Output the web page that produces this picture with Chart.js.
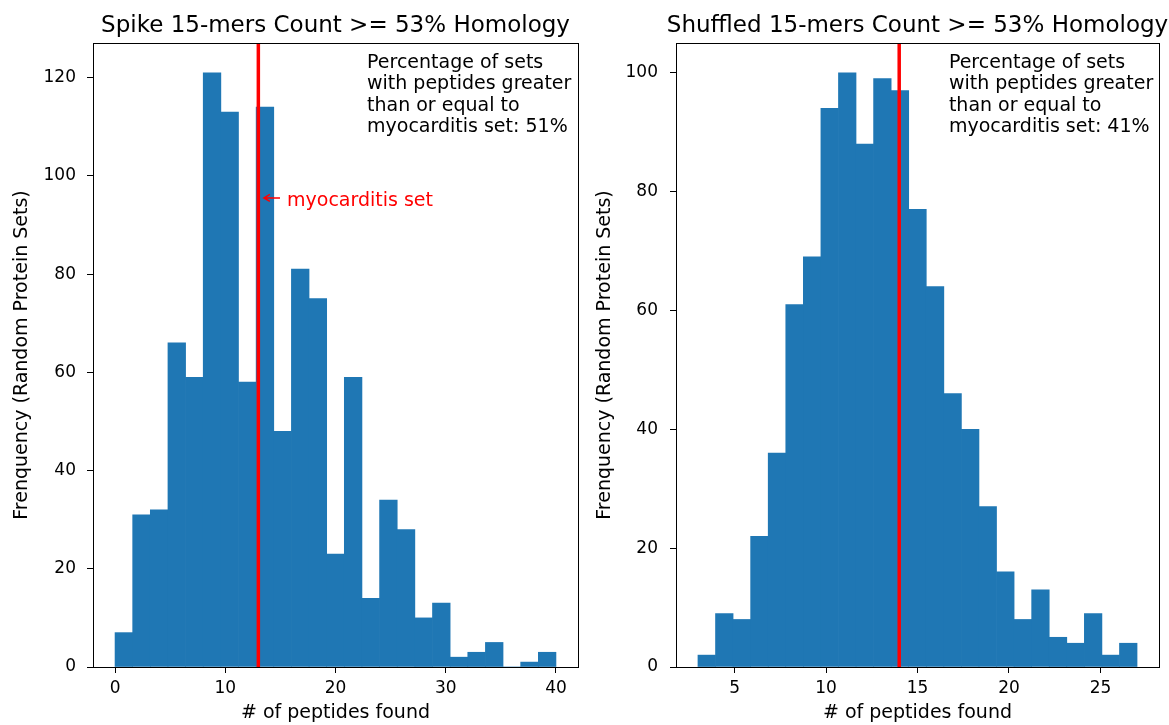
<!DOCTYPE html>
<html>
<head>
<meta charset="utf-8">
<script src="https://cdn.jsdelivr.net/npm/chart.js@4.4.0/dist/chart.umd.min.js"></script>
<style>
  html, body { margin: 0; padding: 0; background: #fff; }
  #wrap { position: relative; width: 1169px; height: 725px; overflow: hidden; }
  #c1 { position: absolute; left: 0; top: 0; }
  #c2 { position: absolute; left: 585px; top: 0; }
</style>
</head>
<body>
<div id="wrap">
  <canvas id="c1" width="585" height="725"></canvas>
  <canvas id="c2" width="584" height="725"></canvas>
</div>
<script>
// ---------- data ----------
const leftBinEdges = [0, 1.6, 3.2, 4.8, 6.4, 8, 9.6, 11.2, 12.8, 14.4, 16, 17.6, 19.2, 20.8, 22.4, 24, 25.6, 27.2, 28.8, 30.4, 32, 33.6, 35.2, 36.8, 38.4, 40];
const leftCounts = [7, 31, 32, 66, 59, 121, 113, 58, 114, 48, 81, 75, 23, 59, 14, 34, 28, 10, 13, 2, 3, 5, 0, 1, 3];
const rightBinEdges = [3, 3.96, 4.92, 5.88, 6.84, 7.8, 8.76, 9.72, 10.68, 11.64, 12.6, 13.56, 14.52, 15.48, 16.44, 17.4, 18.36, 19.32, 20.28, 21.24, 22.2, 23.16, 24.12, 25.08, 26.04, 27];
const rightCounts = [2, 9, 8, 22, 36, 61, 69, 94, 100, 88, 99, 97, 77, 64, 46, 40, 27, 16, 8, 13, 5, 4, 9, 2, 4];
const leftXTicks = [0, 10, 20, 30, 40];
const rightXTicks = [5, 10, 15, 20, 25];
const leftYTicks = [0, 20, 40, 60, 80, 100, 120];
const rightYTicks = [0, 20, 40, 60, 80, 100];
const leftMarker = 13;
const rightMarker = 14;
const leftTitle = 'Spike 15-mers Count >= 53% Homology';
const rightTitle = 'Shuffled 15-mers Count >= 53% Homology';
const leftNote = ['Percentage of sets', 'with peptides greater', 'than or equal to', 'myocarditis set: 51%'];
const rightNote = ['Percentage of sets', 'with peptides greater', 'than or equal to', 'myocarditis set: 41%'];
const xLabel = '# of peptides found';
const yLabel = 'Frenquency (Random Protein Sets)';
const arrowLabel = 'myocarditis set';
const arrowTip = { x: 13.5, y: 95.5 };
const arrowText = { x: 15.6, y: 95.5 };

// ---------- style ----------
const FONT = "'DejaVu Sans', 'Liberation Sans', sans-serif";
const BAR = '#1f77b4';
Chart.defaults.font.family = FONT;
Chart.defaults.color = '#000';

function histPoints(edges, counts) {
  return counts.map((c, i) => ({ x: (edges[i] + edges[i + 1]) / 2, y: c }));
}

function decorPlugin(cfg) {
  return {
    id: 'decor_' + cfg.id,
    afterDraw(chart) {
      const ctx = chart.ctx;
      const ca = chart.chartArea;
      ctx.save();
      // axes box
      ctx.strokeStyle = '#000';
      ctx.lineWidth = 1;
      ctx.strokeRect(Math.round(ca.left) + 0.5, Math.round(ca.top) + 0.5,
                     Math.round(ca.right - ca.left), Math.round(ca.bottom - ca.top));
      // title
      ctx.fillStyle = '#000';
      ctx.font = '23px ' + FONT;
      ctx.textAlign = 'center';
      ctx.textBaseline = 'alphabetic';
      ctx.fillText(cfg.title, (ca.left + ca.right) / 2, 32);
      // note block
      ctx.font = '19px ' + FONT;
      ctx.textAlign = 'left';
      const nx = ca.left + 0.565 * (ca.right - ca.left);
      cfg.note.forEach((line, i) => ctx.fillText(line, nx, 68 + i * 21.3));
      // arrow annotation
      if (cfg.arrow) {
        const xs = chart.scales.x, ys = chart.scales.y;
        const tx = xs.getPixelForValue(arrowTip.x), ty = ys.getPixelForValue(arrowTip.y);
        const lx = xs.getPixelForValue(arrowText.x), ly = ys.getPixelForValue(arrowText.y);
        ctx.strokeStyle = 'red';
        ctx.lineWidth = 1.5;
        ctx.beginPath();
        ctx.moveTo(lx - 7, ly);
        ctx.lineTo(tx, ty);
        ctx.moveTo(tx + 6, ty - 3.5);
        ctx.lineTo(tx, ty);
        ctx.lineTo(tx + 6, ty + 3.5);
        ctx.stroke();
        ctx.fillStyle = 'red';
        ctx.textBaseline = 'middle';
        ctx.fillText(arrowLabel, lx, ly + 3);
      }
      ctx.restore();
    }
  };
}

function makeChart(canvasId, cfg) {
  const edges = cfg.edges;
  const span = edges[edges.length - 1] - edges[0];
  const xMin = edges[0] - 0.05 * span;
  const xMax = edges[edges.length - 1] + 0.05 * span;
  const yMax = Math.max(...cfg.counts) * 1.05;
  return new Chart(document.getElementById(canvasId), {
    type: 'bar',
    data: {
      datasets: [
        {
          type: 'line',
          data: [{ x: cfg.marker, y: 0 }, { x: cfg.marker, y: yMax }],
          borderColor: 'red',
          borderWidth: 3.5,
          pointRadius: 0,
          fill: false,
          order: 0
        },
        {
          type: 'bar',
          data: histPoints(edges, cfg.counts),
          backgroundColor: BAR,
          borderWidth: 0,
          barPercentage: 1,
          categoryPercentage: 1,
          order: 1
        }
      ]
    },
    options: {
      responsive: false,
      animation: false,
      events: [],
      layout: { padding: { top: 43, right: cfg.padRight, bottom: 0, left: 0 } },
      plugins: { legend: { display: false }, title: { display: false }, tooltip: { enabled: false } },
      scales: {
        x: {
          type: 'linear',
          min: xMin,
          max: xMax,
          offset: false,
          grid: { display: true, drawOnChartArea: false, drawTicks: true, tickLength: 6, color: '#000', offset: false },
          border: { display: true, color: '#000', width: 1 },
          ticks: { font: { size: 17 }, color: '#000', padding: 5, autoSkip: false, maxRotation: 0 },
          afterBuildTicks: s => { s.ticks = cfg.xTicks.map(v => ({ value: v })); },
          afterFit: s => { s.height = 58; },
          title: { display: true, text: xLabel, font: { size: 19 }, color: '#000', padding: { top: 0, bottom: 1 } }
        },
        y: {
          type: 'linear',
          min: 0,
          max: yMax,
          grid: { display: true, drawOnChartArea: false, drawTicks: true, tickLength: 6, color: '#000' },
          border: { display: true, color: '#000', width: 1 },
          ticks: { font: { size: 17 }, color: '#000', padding: cfg.yPad },
          afterBuildTicks: s => { s.ticks = cfg.yTicks.map(v => ({ value: v })); },
          afterFit: s => { s.width = cfg.yWidth; },
          title: { display: true, text: yLabel, font: { size: 19 }, color: '#000', padding: { top: cfg.yTitlePad, bottom: 0 } }
        }
      }
    },
    plugins: [decorPlugin(cfg)]
  });
}

makeChart('c1', {
  id: 'l', edges: leftBinEdges, counts: leftCounts, marker: leftMarker,
  xTicks: leftXTicks, yTicks: leftYTicks, title: leftTitle, note: leftNote,
  arrow: true, padRight: 7, yWidth: 93, yPad: 11, yTitlePad: 11
});
makeChart('c2', {
  id: 'r', edges: rightBinEdges, counts: rightCounts, marker: rightMarker,
  xTicks: rightXTicks, yTicks: rightYTicks, title: rightTitle, note: rightNote,
  arrow: false, padRight: 10, yWidth: 91, yPad: 12, yTitlePad: 9
});
</script>
</body>
</html>
